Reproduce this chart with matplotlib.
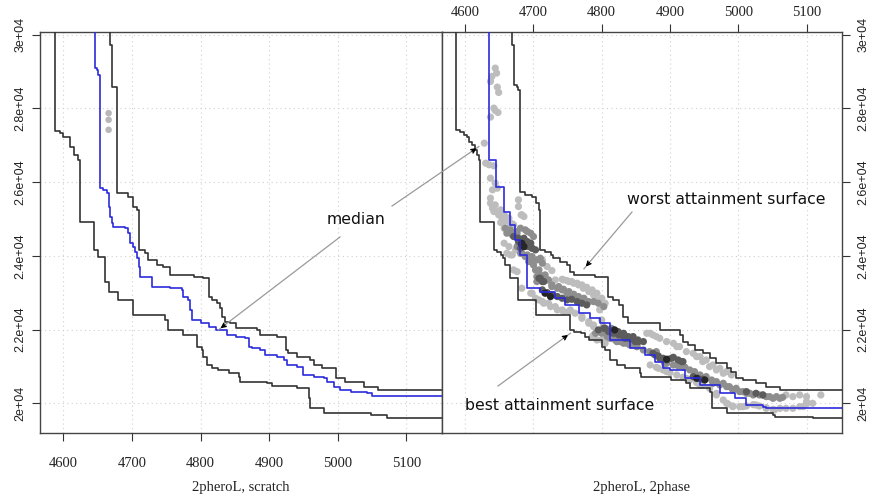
import matplotlib
matplotlib.use("Agg")
import matplotlib.pyplot as plt
import numpy as np

# ---------------- data ----------------
x_ticks = [4600, 4700, 4800, 4900, 5000, 5100]
y_ticks = [20000, 22000, 24000, 26000, 28000, 30000]
y_ticklabels = ["2e+04", "2.2e+04", "2.4e+04", "2.6e+04", "2.8e+04", "3e+04"]
xlabel_left = "2pheroL, scratch"
xlabel_right = "2pheroL, 2phase"

# attainment surfaces: corner points (x, y) of staircase
left_best = [(4588, 31000), (4588, 27394), (4595, 27331), (4600, 27239), (4610, 26967), (4615, 26742),
             (4622, 26606), (4624, 24931), (4644, 24163), (4651, 23981), (4661, 23302), (4666, 23030),
             (4680, 22805), (4702, 22398), (4748, 22262), (4753, 21991), (4775, 21855), (4795, 21537),
             (4802, 21448), (4804, 21266), (4809, 21041), (4817, 20951), (4826, 20905), (4841, 20815),
             (4856, 20723), (4858, 20587), (4897, 20543), (4904, 20470), (4941, 20408), (4958, 20136),
             (4960, 19865), (4980, 19729), (5048, 19683), (5072, 19593), (5200, 19593)]
left_median = [(4646, 31000), (4646, 29096), (4649, 29050), (4651, 28914), (4654, 28868), (4654, 25838),
               (4658, 25792), (4663, 25702), (4666, 25338), (4668, 25067), (4671, 24888), (4673, 24795),
               (4690, 24752), (4695, 24616), (4697, 24345), (4702, 24252), (4705, 24117), (4707, 23937),
               (4710, 23709), (4712, 23438), (4729, 23166), (4756, 23123), (4773, 23077), (4775, 22895),
               (4782, 22805), (4785, 22534), (4787, 22262), (4800, 22173), (4812, 22080), (4822, 21991),
               (4839, 21855), (4851, 21809), (4865, 21765), (4870, 21537), (4875, 21494), (4887, 21448),
               (4894, 21312), (4912, 21266), (4921, 21176), (4926, 21041), (4941, 20994), (4950, 20769),
               (4965, 20723), (4980, 20679), (4985, 20587), (4994, 20452), (5004, 20362), (5019, 20315),
               (5043, 20272), (5050, 20207), (5200, 20207)]
left_worst = [(4668, 31000), (4668, 29728), (4671, 29639), (4671, 28596), (4678, 28553), (4678, 25702),
              (4695, 25610), (4702, 25338), (4707, 25249), (4710, 24163), (4719, 24073), (4724, 23891),
              (4736, 23755), (4746, 23710), (4756, 23484), (4790, 23438), (4804, 23395), (4812, 22895),
              (4817, 22805), (4824, 22716), (4829, 22580), (4831, 22352), (4836, 22216), (4843, 22173),
              (4851, 22037), (4882, 21991), (4887, 21855), (4912, 21809), (4924, 21448), (4927, 21358),
              (4941, 21266), (4960, 21176), (4965, 21041), (4977, 20951), (4997, 20679), (5011, 20587),
              (5038, 20452), (5058, 20362), (5200, 20362)]

right_best = [(4587, 31000), (4587, 27421), (4593, 27375), (4598, 27285), (4603, 27239), (4605, 27103),
              (4610, 27013), (4615, 26878), (4617, 26742), (4620, 26606), (4622, 26517), (4622, 24931),
              (4642, 24163), (4647, 24117), (4652, 24027), (4656, 23937), (4659, 23755), (4666, 23395),
              (4678, 23077), (4678, 22805), (4703, 22398), (4753, 22216), (4754, 21991), (4759, 21945),
              (4769, 21901), (4776, 21809), (4781, 21719), (4800, 21537), (4805, 21448), (4812, 21176),
              (4822, 21041), (4834, 20951), (4856, 20815), (4858, 20723), (4902, 20633), (4924, 20543),
              (4929, 20408), (4958, 20315), (4961, 19865), (4983, 19729), (5051, 19683), (5054, 19637),
              (5109, 19593), (5200, 19593)]
right_median = [(4635, 31000), (4635, 26606), (4645, 26424), (4645, 25881), (4657, 25202), (4666, 24841),
                (4673, 24434), (4680, 24027), (4691, 23802), (4691, 23123), (4710, 23022), (4732, 22859),
                (4746, 22670), (4766, 22444), (4783, 22317), (4797, 22181), (4812, 21719), (4841, 21502),
                (4863, 21312), (4878, 21122), (4890, 20951), (4900, 20905), (4922, 20688), (4944, 20498),
                (4973, 20272), (4995, 20145), (5012, 19955), (5036, 19909), (5041, 19865), (5200, 19865)]
right_worst = [(4668, 31000), (4668, 29728), (4671, 29593), (4671, 28643), (4676, 28596), (4678, 28507),
               (4681, 25746), (4688, 25656), (4698, 25610), (4703, 25430), (4708, 25249), (4710, 24163),
               (4717, 24117), (4725, 24027), (4729, 23937), (4739, 23845), (4749, 23755), (4754, 23574),
               (4759, 23484), (4790, 23438), (4809, 23348), (4809, 22895), (4817, 22805), (4826, 22670),
               (4831, 22352), (4839, 22173), (4885, 21991), (4914, 21855), (4919, 21673), (4926, 21584),
               (4936, 21448), (4948, 21358), (4958, 21222), (4968, 21087), (4983, 20951), (4990, 20858),
               (4997, 20679), (5007, 20633), (5026, 20543), (5041, 20452), (5061, 20362), (5200, 20362)]

# points of the left panel
left_points = [(4666, 27874), (4666, 27693), (4666, 27421)]

# points of the right panel by shade
pts_light = [(4644, 29095), (4646, 28960), (4639, 28869), (4637, 28733), (4647, 28579), (4649, 28435),
             (4642, 28009), (4644, 27946), (4648, 27892), (4637, 27765), (4628, 27059), (4630, 26516),
             (4635, 26471), (4642, 26444), (4637, 26109), (4644, 25973), (4647, 25837), (4640, 25792),
             (4637, 25566), (4678, 25521), (4682, 25113),
             (4640, 25339), (4642, 25203), (4649, 25113), (4654, 25022), (4661, 24977), (4652, 24905),
             (4678, 25339), (4683, 25113), (4669, 24868), (4657, 24751), (4664, 24687), (4657, 24344),
             (4666, 24027), (4671, 23620), (4683, 23122), (4713, 23891), (4720, 23710), (4727, 23601),
             (4744, 23348), (4752, 23303), (4759, 23258), (4766, 23212), (4773, 23122), (4781, 23031),
             (4788, 22941), (4793, 22805), (4698, 22986), (4708, 22805), (4715, 22715), (4725, 22624),
             (4735, 22534), (4744, 22488), (4754, 22534), (4761, 22443), (4771, 22307), (4781, 22172),
             (4788, 22081), (4795, 21945), (4788, 21855), (4800, 21719),
             (4871, 21900), (4880, 21810), (4895, 21674), (4910, 21538), (4924, 21402), (4939, 21267),
             (4948, 21131), (4958, 20995), (4968, 20905), (4978, 20814), (4871, 21040), (4883, 20950),
             (4895, 20859), (4910, 20769), (4924, 20678), (4944, 20497), (4958, 20407), (4968, 20226),
             (4983, 20000), (4992, 19909), (5007, 19909), (5026, 19954), (5041, 19864), (5053, 19819),
             (5070, 19864), (5080, 19864), (5095, 19909), (5100, 20045), (5070, 20226), (5080, 20181),
             (5090, 20226), (5109, 20000), (5121, 20226),
             (4637, 25430), (4644, 25384), (4640, 25294), (4652, 25249), (4647, 25203), (4654, 25113),
             (4659, 25068), (4664, 25022), (4657, 24932), (4666, 24887), (4671, 24841), (4686, 25068),
             (4664, 24253), (4661, 24072), (4669, 24027), (4674, 24163), (4676, 23574),
             (4732, 23348), (4742, 23366), (4749, 23330), (4756, 23303), (4764, 23258), (4771, 23212),
             (4778, 23149), (4786, 23077), (4793, 22986), (4800, 22850), (4805, 22715),
             (4696, 22986), (4703, 22850), (4713, 22760), (4722, 22715), (4732, 22624), (4742, 22534),
             (4752, 22488), (4771, 22353), (4781, 22217), (4788, 22126), (4786, 21810), (4793, 21719),
             (4805, 21629), (4797, 22534), (4800, 22262), (4802, 22081), (4805, 21900),
             (4866, 21900), (4875, 21855), (4885, 21764), (4905, 21629), (4914, 21538), (4934, 21357),
             (4944, 21267), (4953, 21176), (4963, 21040), (4973, 20950), (4983, 20859), (4990, 20769),
             (4880, 20977), (4890, 20905), (4900, 20832), (4919, 20705), (4929, 20633), (4939, 20561),
             (4948, 20497), (4958, 20434), (4968, 20271), (4978, 20090), (4985, 19982), (4992, 19927),
             (5002, 19909), (5012, 19927), (5022, 19963), (5031, 19927), (5041, 19882), (5051, 19837),
             (5061, 19864), (5090, 19909), (5100, 19982), (5100, 20181)]
pts_mid = [(4661, 24615), (4669, 24570), (4676, 24615), (4691, 24660), (4676, 24253), (4698, 24208),
           (4681, 24072), (4688, 23982), (4696, 23846), (4700, 23755), (4708, 23620), (4705, 23439),
           (4720, 23348), (4727, 23167), (4735, 23122), (4742, 23077), (4749, 22986), (4756, 22896),
           (4764, 22850), (4771, 22805), (4781, 22760), (4800, 21900), (4810, 21810), (4820, 21719),
           (4832, 21674), (4844, 21583),
           (4827, 21674), (4841, 21583), (4851, 21538), (4861, 21448), (4870, 21402), (4895, 21085),
           (4905, 21040), (4919, 20995), (4929, 20905), (4963, 20543), (4973, 20497), (4983, 20452),
           (4992, 20362), (5002, 20316), (5012, 20271), (5022, 20226), (5031, 20226), (5041, 20181),
           (5051, 20135), (5061, 20135),
           (4659, 24751), (4666, 24706), (4674, 24660), (4681, 24751), (4688, 24706), (4696, 24615),
           (4700, 24525), (4683, 24072), (4691, 24027), (4698, 23982), (4705, 23891), (4710, 23936),
           (4693, 23846), (4713, 23801), (4703, 23620), (4708, 23529), (4713, 23439), (4717, 23484),
           (4722, 23348), (4705, 23303), (4727, 23212), (4737, 23167), (4744, 23095), (4752, 23031),
           (4759, 22959), (4766, 22896), (4774, 22850), (4788, 22760), (4795, 22715), (4803, 22624),
           (4791, 21900), (4808, 21810), (4815, 21764), (4822, 21719), (4830, 21674), (4837, 21629),
           (4852, 21538), (4807, 21991), (4814, 22036), (4812, 21764), (4822, 21674), (4832, 21629),
           (4880, 21402), (4892, 21085), (4912, 21013), (4922, 20977), (4936, 20859), (4944, 20769),
           (4953, 20724), (4961, 20633), (4968, 20588), (4978, 20543), (4987, 20452), (4997, 20407),
           (5007, 20316), (5017, 20271), (5036, 20226), (5046, 20181), (5056, 20181), (5065, 20162)]
pts_dark = [(4678, 24389), (4688, 24344), (4693, 24253), (4686, 24479), (4708, 23393), (4713, 23303),
            (4805, 22036), (4813, 21945), (4822, 21900), (4832, 21810), (4842, 21764), (4849, 21674),
            (4819, 21945), (4834, 21764), (4846, 21810), (4853, 21719), (4878, 21312), (4885, 21221),
            (4895, 21176), (4902, 21221), (4912, 21176), (4917, 21131), (5026, 20271),
            (4671, 24525), (4678, 24479), (4686, 24434), (4691, 24389), (4696, 24344), (4688, 24253),
            (4681, 24208), (4698, 24208), (4703, 24163), (4710, 23393), (4715, 23303),
            (4713, 23077), (4720, 23004), (4727, 22941), (4735, 22896), (4742, 22850), (4749, 22805),
            (4756, 22823), (4764, 22760), (4771, 22715), (4778, 22669),
            (4795, 21991), (4803, 22036), (4810, 21945), (4817, 21900), (4825, 21855), (4839, 21764),
            (4847, 21719), (4854, 21674), (4817, 21991), (4824, 21945), (4832, 21900), (4839, 21810),
            (4861, 21674), (4875, 21357), (4883, 21285), (4890, 21221), (4897, 21194), (4905, 21248),
            (4919, 21131), (4934, 20724), (4941, 20678), (4948, 20651), (5012, 20316), (5036, 20226)]
pts_black = [(4683, 24298), (4717, 22986), (4725, 22896), (4939, 20678), (4951, 20633),
             (4683, 24344), (4686, 24253), (4819, 21991), (4895, 21194)]

# annotation targets (data coordinates)
median_left_target = (4826, 21991)
median_right_target = (4620, 26967)
worst_target = (4774, 23650)
best_target = (4754, 21901)

# ---------------- figure ----------------
W, H, DPI = 872, 499, 100
fig = plt.figure(figsize=(W / DPI, H / DPI), dpi=DPI)

def fr(px, py):
    return px / W, 1 - py / H

ax_b, ax_t = 1 - 433 / H, 1 - 32 / H
ax1 = fig.add_axes([40 / W, ax_b, 402 / W, ax_t - ax_b])
ax2 = fig.add_axes([442 / W, ax_b, 400 / W, ax_t - ax_b])

XLIM = (4566, 5152)
YLIM = (19194, 30075)
line_col = "#333333"
blue = "#2b2bdc"
serif = ["Liberation Serif", "DejaVu Serif"]
sans = ["Liberation Sans", "DejaVu Sans"]

for ax in (ax1, ax2):
    ax.set_xlim(*XLIM)
    ax.set_ylim(*YLIM)
    ax.set_xticks(x_ticks)
    ax.set_yticks(y_ticks)
    ax.grid(True, color="#d0d0d0", linestyle=(0, (1, 3)), linewidth=0.8)
    ax.set_axisbelow(True)
    for sp in ax.spines.values():
        sp.set_color("#444444")
        sp.set_linewidth(1.0)

def draw_curve(ax, pts, color):
    xs = [p[0] for p in pts]
    ys = [p[1] for p in pts]
    ax.plot(xs, ys, drawstyle="steps-post", color=color, lw=1.2, zorder=3)

# left panel
ax1.scatter([p[0] for p in left_points], [p[1] for p in left_points], s=22, color="#b8b8b8",
            edgecolors="none", zorder=2)
draw_curve(ax1, left_best, line_col)
draw_curve(ax1, left_worst, line_col)
draw_curve(ax1, left_median, blue)

# right panel
draw_curve(ax2, right_median, blue)
for pts, c in ((pts_light, "#bdbdbd"), (pts_mid, "#8e8e8e"), (pts_dark, "#5c5c5c"), (pts_black, "#262626")):
    ax2.scatter([p[0] for p in pts], [p[1] for p in pts], s=27, color=c, edgecolors="none", zorder=2.5)
draw_curve(ax2, right_best, line_col)
draw_curve(ax2, right_worst, line_col)

# ticks
ax1.tick_params(axis="x", bottom=True, top=False, labelbottom=True, labeltop=False,
                direction="out", length=6, width=0.8, pad=11.5, labelsize=10.5, colors="#333333")
ax1.tick_params(axis="y", left=True, right=False, labelleft=True, labelright=False,
                direction="out", length=6, width=0.8, pad=4, labelsize=9, colors="#333333")
ax2.tick_params(axis="x", bottom=False, top=True, labelbottom=False, labeltop=True,
                direction="out", length=6, width=0.8, pad=3, labelsize=10.5, colors="#333333")
ax2.tick_params(axis="y", left=False, right=True, labelleft=False, labelright=True,
                direction="out", length=6, width=0.8, pad=5, labelsize=9, colors="#333333")
for ax in (ax1, ax2):
    ax.set_xticklabels([str(t) for t in x_ticks], family=serif, color="#222222")
    ax.set_yticklabels(y_ticklabels, family=sans, rotation=90, va="center", color="#222222")

fig.text(*fr(241, 487), xlabel_left, ha="center", va="center", family=serif, fontsize=10.5, color="#222222")
fig.text(*fr(641, 487), xlabel_right, ha="center", va="center", family=serif, fontsize=10.5, color="#222222")

# annotations
fig.canvas.draw()

def arrow(start_px, ax, target):
    sx, sy = fig.transFigure.transform(fr(*start_px))
    tx, ty = ax.transData.transform(target)
    start_fig = fr(*start_px)
    fig.add_artist(plt.Line2D([start_fig[0], tx / W], [start_fig[1], ty / H],
                              transform=fig.transFigure, color="#9a9a9a", lw=0.9, zorder=5))
    d = np.hypot(tx - sx, ty - sy)
    ux, uy = (sx - tx) / d, (sy - ty) / d
    L = 11
    bx, by = tx + ux * L, ty + uy * L
    fig.add_artist(matplotlib.patches.FancyArrowPatch(
        (bx / W, by / H), (tx / W, ty / H), transform=fig.transFigure,
        arrowstyle="->", mutation_scale=7, color="black", lw=1.1, zorder=6))

arrow((340, 237), ax1, median_left_target)
arrow((392, 206), ax2, median_right_target)
arrow((632, 212), ax2, worst_target)
arrow((498, 386), ax2, best_target)

txt_kw = dict(ha="center", va="center", fontsize=11.3, family=["DejaVu Sans"], color="#111111", zorder=7)
fig.text(*fr(356, 220), "median", **txt_kw)
fig.text(*fr(726, 200), "worst attainment surface", **txt_kw)
fig.text(*fr(560, 406), "best attainment surface", **txt_kw)

fig.savefig("out.png", dpi=DPI)
